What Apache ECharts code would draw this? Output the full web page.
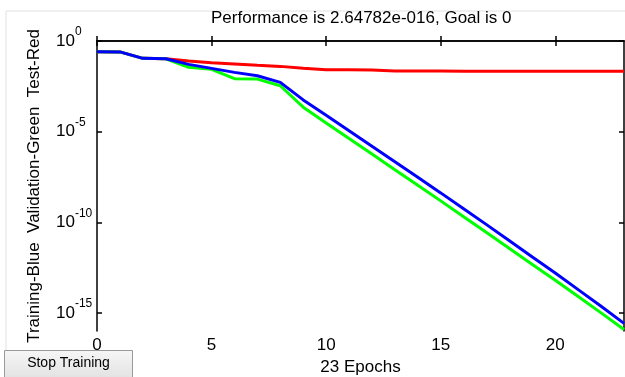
<!DOCTYPE html>
<html>
<head>
<meta charset="utf-8">
<script src="https://cdn.jsdelivr.net/npm/echarts@6/dist/echarts.min.js"></script>
<style>
  html, body { margin: 0; padding: 0; background: #fff; }
  #chart { width: 625px; height: 377px; }
</style>
</head>
<body>
<div id="chart"></div>
<script>
// epoch numbers (x)
const epochs = [0, 1, 2, 3, 4, 5, 6, 7, 8, 9, 10, 11, 12, 13, 14, 15, 16, 17, 18, 19, 20, 21, 22, 23]

// training performance (blue)
const trainPerf = [
  2.57e-1, 2.51e-1, 1.10e-1, 1.05e-1, 5.13e-2, 3.09e-2, 1.86e-2, 1.20e-2,
  5.25e-3, 5.62e-4, 7.94e-5, 1.12e-5, 1.58e-6, 2.19e-7, 3.02e-8, 4.17e-9,
  5.62e-10, 7.41e-11, 9.55e-12, 1.20e-12, 1.58e-13, 1.91e-14, 2.34e-15, 2.64782e-16
]

// validation performance (green)
const valPerf = [
  2.57e-1, 2.51e-1, 1.10e-1, 1.05e-1, 3.55e-2, 2.75e-2, 8.32e-3, 7.94e-3,
  3.39e-3, 2.24e-4, 3.02e-5, 4.17e-6, 5.75e-7, 7.94e-8, 1.10e-8, 1.51e-9,
  2.00e-10, 2.69e-11, 3.55e-12, 4.68e-13, 6.31e-14, 7.94e-15, 1.00e-15, 1.20e-16
]

// test performance (red)
const testPerf = [
  2.57e-1, 2.51e-1, 1.10e-1, 1.05e-1, 7.94e-2, 6.31e-2, 5.37e-2, 4.57e-2,
  3.98e-2, 3.16e-2, 2.63e-2, 2.57e-2, 2.51e-2, 2.19e-2, 2.19e-2, 2.19e-2,
  2.17e-2, 2.16e-2, 2.15e-2, 2.15e-2, 2.14e-2, 2.14e-2, 2.14e-2, 2.14e-2
]

// tick labels
const xTickValues = [0, 5, 10, 15, 20]
const yTickExponents = [0, -5, -10, -15]

const FONT = 'Liberation Sans, Arial, sans-serif'

function pairs(vals) {
  return epochs.map((e, i) => [e, vals[i]])
}

const chart = echarts.init(document.getElementById('chart'))

const frameAxis = {
  axisLine: { show: true, lineStyle: { color: '#000', width: 1.5 } },
  axisTick: { show: true, inside: true, length: 5, lineStyle: { color: '#000', width: 1.5 } },
  splitLine: { show: false }
}

function perfSeries(name, vals, color) {
  return {
    name,
    type: 'line',
    xAxisIndex: 0,
    yAxisIndex: 0,
    data: pairs(vals),
    showSymbol: false,
    lineStyle: { color, width: 3 },
    itemStyle: { color }
  }
}

chart.setOption({
  animation: false,
  backgroundColor: '#fff',
  title: {
    text: 'Performance is 2.64782e-016, Goal is 0',
    left: 206,
    top: 5,
    textStyle: { color: '#000', fontWeight: 'normal', fontSize: 17, fontFamily: FONT }
  },
  // fixed plot box; labels may sit close to the canvas edge
  grid: { left: 97, right: 1, top: 41, bottom: 46, containLabel: false, outerBoundsMode: 'none' },
  xAxis: [
    {
      ...frameAxis,
      type: 'value',
      position: 'bottom',
      min: 0,
      max: 23,
      name: '23 Epochs',
      nameLocation: 'middle',
      nameGap: 26,
      nameTextStyle: { color: '#000', fontSize: 17, fontFamily: FONT },
      axisTick: { ...frameAxis.axisTick, customValues: xTickValues },
      axisLabel: {
        customValues: xTickValues,
        margin: 6,
        color: '#000',
        fontSize: 17,
        fontFamily: FONT
      }
    },
    {
      ...frameAxis,
      type: 'value',
      position: 'top',
      min: 0,
      max: 23,
      axisTick: { ...frameAxis.axisTick, customValues: xTickValues },
      axisLabel: { show: false }
    }
  ],
  yAxis: [
    {
      // data axis: log scale, frame drawn by the axes below
      type: 'log',
      logBase: 10,
      min: 1e-16,
      max: 1,
      show: false
    },
    {
      ...frameAxis,
      type: 'value',
      position: 'left',
      min: -16,
      max: 0,
      name: 'Training-Blue  Validation-Green  Test-Red',
      nameLocation: 'middle',
      nameRotate: 90,
      nameGap: 54,
      nameTextStyle: { color: '#000', fontSize: 17, fontFamily: FONT },
      axisTick: { ...frameAxis.axisTick, customValues: yTickExponents },
      axisLabel: {
        customValues: yTickExponents,
        align: 'left',
        margin: 41,
        formatter: (v) => '{b|10}{s|' + v + '}',
        rich: {
          b: { fontSize: 17, lineHeight: 17, color: '#000', fontFamily: FONT, verticalAlign: 'middle' },
          s: { fontSize: 12, lineHeight: 12, color: '#000', fontFamily: FONT, verticalAlign: 'middle', padding: [0, 0, 18, 0] }
        }
      }
    },
    {
      ...frameAxis,
      type: 'value',
      position: 'right',
      min: -16,
      max: 0,
      axisTick: { ...frameAxis.axisTick, customValues: yTickExponents },
      axisLabel: { show: false }
    }
  ],
  series: [
    perfSeries('Test', testPerf, '#ff0000'),
    perfSeries('Validation', valPerf, '#00ff00'),
    perfSeries('Training', trainPerf, '#0000ff')
  ],
  graphic: [
    // faint figure panel edge
    {
      type: 'polyline',
      shape: { points: [[6, 377], [6, 11], [625, 11]] },
      style: { stroke: '#e2e2e2', lineWidth: 1, fill: null },
      silent: true
    },
    // "Stop Training" button
    {
      type: 'group',
      left: 4,
      top: 350,
      children: [
        {
          type: 'rect',
          shape: { x: 0, y: 0, width: 128, height: 28 },
          style: {
            fill: new echarts.graphic.LinearGradient(0, 0, 0, 1, [
              { offset: 0, color: '#f6f6f6' },
              { offset: 1, color: '#e2e2e2' }
            ]),
            stroke: '#9a9a9a',
            lineWidth: 1
          }
        },
        {
          type: 'text',
          x: 64,
          y: 13,
          style: {
            text: 'Stop Training',
            fill: '#000',
            font: '14px ' + FONT,
            align: 'center',
            verticalAlign: 'middle'
          }
        }
      ]
    }
  ]
})
</script>
</body>
</html>
